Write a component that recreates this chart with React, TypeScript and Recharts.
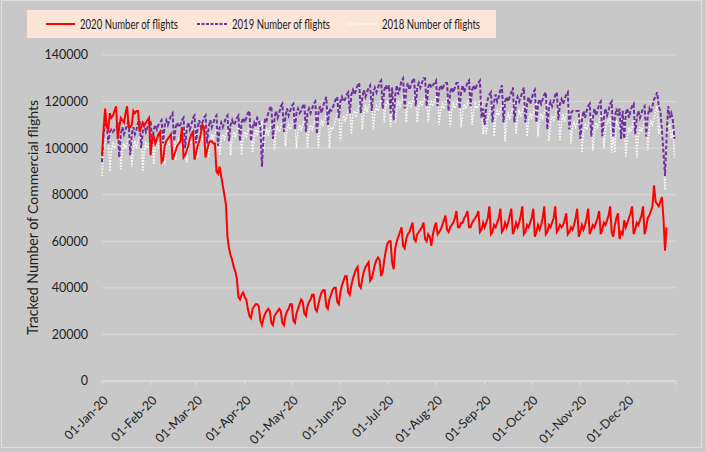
import React from 'react';
import { LineChart, Line, XAxis, YAxis, CartesianGrid } from 'recharts';

// Daily tracked commercial flights, in thousands, index 0 = 1 Jan
const flights2020K = [
  97, 108, 117, 109, 108, 115, 113,
  114, 116, 118, 104, 109, 113, 112,
  111, 115, 118, 109, 109, 110, 116,
  115, 116, 116, 107, 109, 111, 110,
  111, 112, 113, 97, 104, 105, 102,
  104, 106, 107, 94, 95, 101, 103,
  104, 105, 106, 95, 97, 99, 101,
  102, 103, 109, 96, 97, 99, 101,
  104, 106, 107, 95, 98, 101, 103,
  106, 110, 109, 96, 99, 102, 103,
  103, 102, 102, 90, 89, 92, 88,
  84, 80, 76, 62, 57, 54, 52,
  49, 47, 44, 36, 35, 37, 38,
  36, 35, 31, 28, 27, 31, 32,
  33, 33, 32, 26, 24, 27, 29,
  30, 31, 30, 25, 24, 28, 29,
  30, 31, 30, 25, 24, 28, 30,
  31, 33, 33, 26, 25, 29, 31,
  33, 35, 34, 29, 28, 32, 34,
  35, 37, 37, 31, 30, 33, 36,
  38, 39, 39, 32, 31, 35, 37,
  39, 40, 40, 34, 33, 38, 41,
  43, 45, 45, 38, 37, 41, 44,
  46, 48, 49, 41, 40, 44, 47,
  49, 50, 51, 43, 44, 47, 50,
  52, 53, 52, 45, 47, 52, 56,
  59, 60, 60, 51, 48, 57, 60,
  62, 64, 66, 58, 57, 61, 63,
  64, 66, 68, 61, 60, 63, 64,
  65, 66, 68, 61, 60, 63, 62,
  58, 63, 66, 68, 63, 64, 65,
  67, 69, 71, 65, 64, 66, 67,
  68, 70, 73, 66, 66, 68, 68,
  70, 71, 73, 66, 66, 68, 69,
  70, 71, 73, 64, 65, 68, 66,
  68, 70, 75, 63, 64, 67, 66,
  68, 70, 74, 64, 65, 68, 66,
  68, 71, 74, 63, 65, 68, 66,
  68, 71, 75, 63, 64, 67, 66,
  68, 70, 74, 62, 64, 67, 65,
  67, 70, 75, 63, 64, 67, 66,
  68, 70, 75, 64, 65, 67, 66,
  67, 69, 72, 63, 64, 66, 65,
  67, 70, 74, 62, 64, 67, 65,
  67, 70, 74, 63, 65, 67, 66,
  68, 70, 73, 63, 65, 68, 67,
  69, 71, 75, 64, 62, 67, 70,
  72, 61, 64, 63, 69, 66, 68,
  70, 72, 75, 63, 65, 68, 67,
  69, 71, 75, 63, 66, 70, 71,
  73, 75, 84, 77, 76, 75, 77,
  79, 70, 56, 66,
];

const flights2019K = [
  94, 106, 110, 111,
  102, 107, 108, 107, 108, 109, 110,
  96, 106, 109, 106, 108, 110, 112,
  97, 106, 109, 106, 108, 111, 112,
  100, 107, 110, 107, 109, 111, 112,
  102, 108, 110, 108, 110, 111, 112,
  102, 110, 112, 110, 112, 114, 115,
  103, 109, 111, 109, 110, 112, 113,
  100, 108, 111, 108, 110, 113, 114,
  102, 109, 112, 109, 111, 113, 114,
  102, 109, 112, 109, 111, 113, 114,
  101, 109, 111, 109, 111, 113, 114,
  103, 110, 112, 110, 111, 113, 114,
  103, 111, 113, 111, 113, 115, 116,
  103, 109, 111, 109, 113, 112, 109,
  92, 105, 113, 112, 115, 117, 118,
  104, 113, 116, 113, 115, 118, 119,
  107, 114, 117, 114, 116, 118, 119,
  108, 115, 117, 115, 116, 118, 119,
  107, 115, 117, 115, 117, 119, 120,
  106, 115, 118, 115, 118, 120, 122,
  110, 117, 116, 117, 119, 121, 122,
  113, 120, 122, 120, 121, 123, 124,
  115, 123, 125, 123, 125, 127, 128,
  115, 122, 125, 122, 124, 126, 127,
  116, 124, 126, 124, 126, 128, 129,
  117, 125, 127, 125, 127, 115, 126,
  112, 123, 127, 123, 126, 129, 130,
  117, 125, 128, 125, 127, 129, 130,
  118, 126, 128, 126, 128, 130, 130,
  118, 126, 128, 126, 127, 128, 129,
  118, 125, 127, 125, 127, 128, 128,
  116, 124, 126, 124, 126, 128, 128,
  117, 124, 127, 124, 126, 128, 129,
  118, 125, 127, 125, 127, 128, 129,
  113, 117, 110, 118, 121, 123, 124,
  111, 120, 123, 120, 122, 125, 127,
  111, 120, 122, 120, 122, 124, 126,
  111, 120, 122, 120, 122, 124, 126,
  111, 119, 122, 119, 121, 124, 125,
  111, 119, 121, 119, 121, 123, 124,
  108, 118, 120, 118, 120, 123, 124,
  112, 119, 121, 119, 121, 123, 124,
  108, 115, 116, 116, 116, 116, 116,
  104, 112, 116, 113, 116, 118, 119,
  105, 113, 117, 114, 116, 119, 120,
  105, 113, 117, 114, 116, 119, 120,
  105, 113, 117, 114, 117, 104, 116,
  104, 115, 117, 113, 116, 118, 119,
  106, 113, 116, 113, 115, 117, 118,
  105, 114, 117, 115, 118, 121, 122,
  124, 118, 116, 108, 98, 88, 105,
  118, 113, 115, 112, 104,
];

const flights2018K = [
  88, 100, 103, 105, 106,
  90, 99, 102, 100, 102, 104, 106,
  91, 99, 102, 100, 102, 104, 106,
  92, 100, 103, 100, 103, 105, 106,
  90, 99, 102, 100, 102, 104, 106,
  93, 101, 103, 101, 103, 106, 107,
  93, 101, 103, 101, 103, 106, 107,
  95, 102, 104, 103, 105, 107, 108,
  94, 102, 104, 102, 104, 107, 108,
  96, 103, 106, 104, 106, 108, 109,
  96, 103, 106, 104, 106, 108, 109,
  97, 104, 106, 104, 106, 108, 109,
  97, 104, 107, 105, 107, 109, 110,
  97, 104, 107, 105, 107, 109, 110,
  98, 105, 108, 106, 108, 110, 111,
  98, 106, 108, 106, 108, 111, 112,
  99, 107, 109, 107, 109, 112, 113,
  101, 108, 110, 108, 110, 112, 113,
  100, 107, 110, 108, 110, 112, 113,
  100, 108, 110, 108, 110, 113, 114,
  100, 109, 112, 110, 112, 115, 116,
  100, 109, 108, 110, 112, 115, 116,
  103, 111, 114, 112, 114, 117, 118,
  106, 114, 116, 114, 116, 119, 120,
  108, 115, 118, 116, 118, 120, 121,
  108, 115, 118, 116, 118, 121, 122,
  111, 118, 120, 119, 109, 118, 121,
  111, 118, 120, 118, 120, 122, 123,
  111, 118, 120, 118, 120, 122, 123,
  111, 118, 120, 118, 120, 122, 123,
  111, 118, 120, 118, 120, 122, 123,
  110, 117, 119, 117, 119, 121, 122,
  109, 116, 119, 117, 119, 121, 122,
  109, 116, 119, 117, 119, 121, 122,
  110, 116, 119, 117, 118, 120, 121,
  106, 112, 106, 113, 115, 118, 119,
  105, 113, 116, 114, 116, 119, 120,
  103, 112, 115, 113, 115, 118, 120,
  106, 113, 116, 114, 116, 118, 120,
  105, 112, 115, 113, 115, 118, 119,
  105, 112, 115, 113, 115, 118, 119,
  103, 111, 114, 112, 114, 117, 118,
  103, 111, 114, 112, 114, 117, 118,
  102, 109, 111, 109, 111, 113, 114,
  98, 107, 110, 108, 110, 113, 114,
  99, 107, 111, 109, 111, 114, 115,
  100, 108, 111, 112, 113, 98, 106,
  98, 112, 110, 108, 110, 113, 114,
  96, 105, 109, 107, 109, 112, 114,
  96, 105, 109, 107, 109, 112, 114,
  99, 108, 112, 110, 112, 116, 118,
  106, 110, 106, 96, 82, 106, 110, 110, 104, 108, 96,
];

const monthTicks = [0, 31, 60, 91, 121, 152, 182, 213, 244, 274, 305, 335, 366];
const monthLabels = [
  '01-Jan-20', '01-Feb-20', '01-Mar-20', '01-Apr-20', '01-May-20', '01-Jun-20',
  '01-Jul-20', '01-Aug-20', '01-Sep-20', '01-Oct-20', '01-Nov-20', '01-Dec-20', '',
];
const yTicks = [0, 20000, 40000, 60000, 80000, 100000, 120000, 140000];
const seriesNames = ['2020 Number of flights', '2019 Number of flights', '2018 Number of flights'];

const DAYS = 366;
const data = Array.from({ length: DAYS }, (_, i) => ({
  day: i,
  f2020: i < flights2020K.length ? flights2020K[i] * 1000 : null,
  f2019: i < flights2019K.length ? flights2019K[i] * 1000 : null,
  f2018: i < flights2018K.length ? flights2018K[i] * 1000 : null,
}));

const FONT = 'Lato, "Open Sans", sans-serif';
const TEXT = '#1e1e1e';
const BG = '#c8c8c8';
const GRID = '#dadada';

const XTick = (props: any) => {
  const { x, y, payload } = props;
  const idx = monthTicks.indexOf(payload.value);
  const label = idx >= 0 ? monthLabels[idx] : '';
  if (!label) return null;
  return (
    <g transform={`translate(${x + 7},${y + 14})`}>
      <text textAnchor="end" transform="rotate(-45)" fontFamily={FONT} fontSize={12.5} fill={TEXT}>
        {label}
      </text>
    </g>
  );
};

const YLabel = () => (
  <g fontFamily={FONT} fill={TEXT}>
    <text transform="translate(38,335) rotate(-90)" fontSize={15} textLength={118} lengthAdjust="spacingAndGlyphs">
      Tracked Number of
    </text>
    <text transform="translate(38,214) rotate(-90)" fontSize={12.5} textLength={114} lengthAdjust="spacingAndGlyphs">
      Commercial flights
    </text>
  </g>
);

const LEG_X = 27;
const legendItems = [
  { name: seriesNames[0], x1: 46, x2: 75, tx: 80, stroke: '#ff0000', width: 2, dash: undefined as string | undefined },
  { name: seriesNames[1], x1: 197, x2: 228, tx: 232, stroke: '#7030a0', width: 2, dash: '3 1.5' },
  { name: seriesNames[2], x1: 348, x2: 378, tx: 382, stroke: '#ffffff', width: 1.5, dash: '1.5 1.5' },
];

export default function App() {
  return (
    <div style={{ position: 'absolute', left: 0, top: 0, width: 705, height: 452, background: BG, overflow: 'hidden' }}>
      <div style={{ position: 'absolute', left: 1, top: 0, width: 701, height: 448, border: '1px solid #dcdcdc', boxSizing: 'border-box' }} />
      <svg width={705} height={48} style={{ position: 'absolute', left: 0, top: 0 }}>
        <rect x={LEG_X} y={10} width={469} height={28} fill="#fbe5d6" />
        {legendItems.map((it) => (
          <g key={it.name}>
            <line x1={it.x1} x2={it.x2} y1={24} y2={24} stroke={it.stroke} strokeWidth={it.width} strokeDasharray={it.dash} />
            <text x={it.tx} y={28.5} fontFamily={FONT} fontSize={13} fill={TEXT} textLength={98} lengthAdjust="spacingAndGlyphs">
              {it.name}
            </text>
          </g>
        ))}
      </svg>
      <div style={{ position: 'absolute', left: 0, top: 0 }}>
        <LineChart width={705} height={452} data={data} margin={{ top: 55, right: 29, left: 0, bottom: 0 }}>
          <CartesianGrid horizontal={true} vertical={false} stroke={GRID} strokeWidth={1} />
          <XAxis
            dataKey="day"
            type="number"
            domain={[0, DAYS]}
            ticks={monthTicks}
            interval={0}
            height={71}
            axisLine={{ stroke: GRID, strokeWidth: 1.5 }}
            tickLine={{ stroke: GRID, strokeWidth: 1.5 }}
            tickSize={4}
            tick={<XTick />}
          />
          <YAxis
            type="number"
            domain={[0, 140000]}
            ticks={yTicks}
            width={102}
            axisLine={false}
            tickLine={false}
            tickSize={6}
            tickMargin={8}
            tick={{ fontFamily: FONT, fontSize: 12.5, fill: TEXT }}
            label={<YLabel />}
          />
          <Line dataKey="f2018" name={seriesNames[2]} stroke="#ffffff" strokeWidth={1.5} strokeDasharray="1.5 1.5" dot={false} isAnimationActive={false} />
          <Line dataKey="f2019" name={seriesNames[1]} stroke="#7030a0" strokeWidth={2} strokeDasharray="4 2" dot={false} isAnimationActive={false} />
          <Line dataKey="f2020" name={seriesNames[0]} stroke="#ff0000" strokeWidth={2} dot={false} isAnimationActive={false} />
        </LineChart>
      </div>
    </div>
  );
}
